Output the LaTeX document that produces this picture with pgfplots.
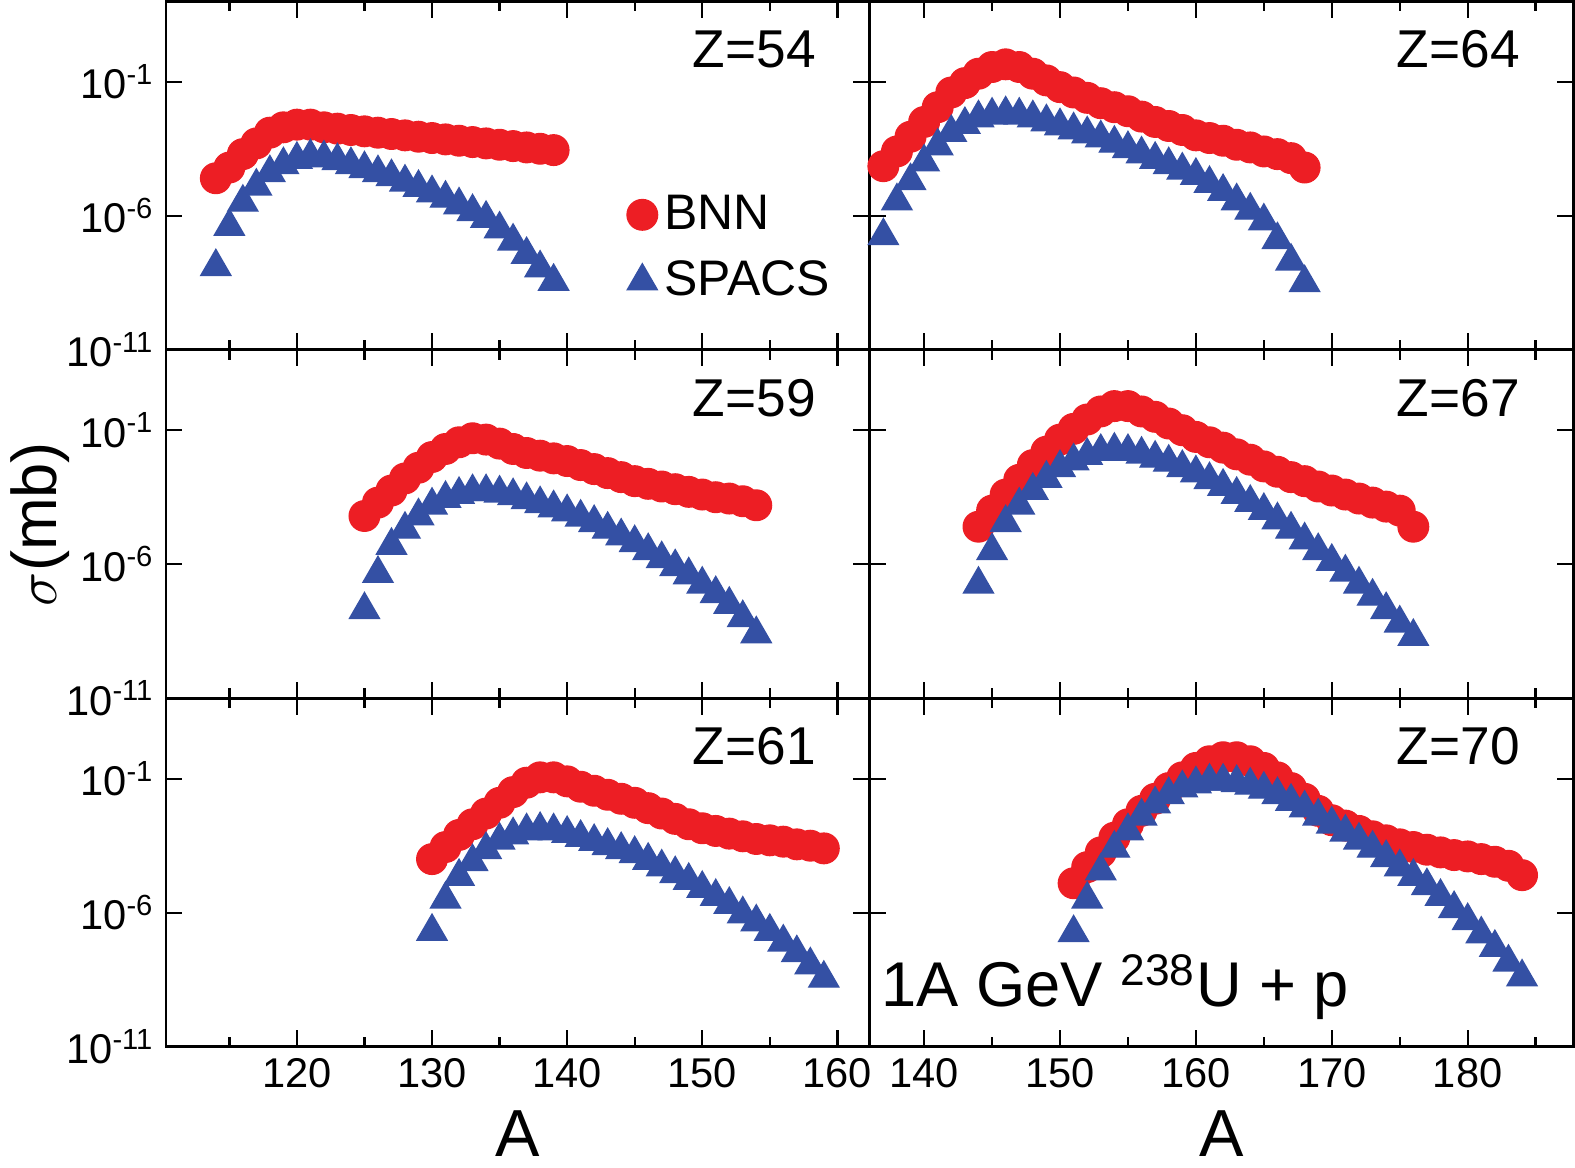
\documentclass[border=0pt]{standalone}
\usepackage{pgfplots}
\pgfplotsset{compat=1.18}
\usepackage{pgfplotstable}
\usepgfplotslibrary{groupplots}
\usepackage{fontspec}
\setmainfont{Liberation Sans}
\definecolor{bred}{RGB}{237,30,36}
\definecolor{sblue}{RGB}{52,80,164}
\pgfplotstableread{
A b s
114 -4.6 -7.9
115 -4.2 -6.4
116 -3.7 -5.5
117 -3.3 -4.9
118 -2.9 -4.4
119 -2.7 -4.1
120 -2.6 -3.9
121 -2.6 -3.8
122 -2.7 -3.85
123 -2.75 -3.95
124 -2.8 -4.1
125 -2.85 -4.25
126 -2.9 -4.4
127 -2.95 -4.55
128 -3.0 -4.75
129 -3.05 -4.95
130 -3.1 -5.15
131 -3.15 -5.35
132 -3.2 -5.6
133 -3.25 -5.85
134 -3.3 -6.1
135 -3.35 -6.5
136 -3.4 -6.95
137 -3.45 -7.45
138 -3.5 -7.95
139 -3.55 -8.45
}\tZa
\pgfplotstableread{
A b s
137 -4.15 -6.75
138 -3.6 -5.45
139 -3.05 -4.7
140 -2.5 -4.0
141 -1.95 -3.4
142 -1.4 -2.9
143 -1.05 -2.6
144 -0.7 -2.35
145 -0.45 -2.25
146 -0.35 -2.2
147 -0.45 -2.25
148 -0.7 -2.35
149 -0.95 -2.5
150 -1.2 -2.65
151 -1.4 -2.8
152 -1.6 -2.95
153 -1.8 -3.1
154 -1.95 -3.3
155 -2.1 -3.5
156 -2.3 -3.7
157 -2.5 -3.9
158 -2.65 -4.1
159 -2.8 -4.3
160 -3.0 -4.5
161 -3.1 -4.8
162 -3.2 -5.1
163 -3.35 -5.45
164 -3.45 -5.8
165 -3.6 -6.2
166 -3.7 -6.9
167 -3.85 -7.7
168 -4.2 -8.5
}\tZb
\pgfplotstableread{
A b s
125 -4.2 -7.7
126 -3.7 -6.35
127 -3.25 -5.3
128 -2.8 -4.7
129 -2.4 -4.2
130 -2.0 -3.8
131 -1.7 -3.55
132 -1.45 -3.4
133 -1.3 -3.3
134 -1.35 -3.3
135 -1.5 -3.35
136 -1.7 -3.45
137 -1.85 -3.6
138 -1.95 -3.75
139 -2.05 -3.9
140 -2.15 -4.05
141 -2.3 -4.25
142 -2.45 -4.45
143 -2.6 -4.7
144 -2.75 -4.95
145 -2.9 -5.2
146 -3.0 -5.5
147 -3.1 -5.8
148 -3.2 -6.1
149 -3.3 -6.4
150 -3.4 -6.75
151 -3.5 -7.1
152 -3.55 -7.5
153 -3.65 -8.0
154 -3.8 -8.6
}\tZc
\pgfplotstableread{
A b s
144 -4.6 -6.75
145 -4.0 -5.5
146 -3.4 -4.45
147 -2.85 -3.8
148 -2.3 -3.25
149 -1.8 -2.8
150 -1.35 -2.4
151 -0.95 -2.15
152 -0.6 -1.95
153 -0.3 -1.8
154 -0.1 -1.75
155 -0.1 -1.8
156 -0.3 -1.9
157 -0.5 -2.05
158 -0.75 -2.2
159 -1.0 -2.4
160 -1.25 -2.6
161 -1.45 -2.85
162 -1.65 -3.1
163 -1.9 -3.4
164 -2.1 -3.7
165 -2.35 -4.0
166 -2.55 -4.35
167 -2.75 -4.7
168 -2.9 -5.1
169 -3.1 -5.5
170 -3.25 -5.9
171 -3.4 -6.3
172 -3.55 -6.75
173 -3.7 -7.2
174 -3.85 -7.7
175 -4.0 -8.2
176 -4.6 -8.7
}\tZd
\pgfplotstableread{
A b s
130 -4.0 -6.7
131 -3.55 -5.5
132 -3.1 -4.65
133 -2.7 -4.1
134 -2.3 -3.65
135 -1.9 -3.3
136 -1.5 -3.1
137 -1.15 -2.95
138 -0.95 -2.9
139 -0.95 -2.95
140 -1.1 -3.05
141 -1.3 -3.2
142 -1.45 -3.35
143 -1.6 -3.5
144 -1.75 -3.65
145 -1.9 -3.8
146 -2.1 -4.05
147 -2.3 -4.3
148 -2.5 -4.55
149 -2.7 -4.8
150 -2.85 -5.1
151 -2.95 -5.4
152 -3.05 -5.7
153 -3.15 -6.05
154 -3.25 -6.35
155 -3.3 -6.7
156 -3.35 -7.1
157 -3.45 -7.5
158 -3.5 -7.95
159 -3.6 -8.45
}\tZe
\pgfplotstableread{
A b s
151 -4.9 -6.75
152 -4.3 -5.5
153 -3.75 -4.45
154 -3.2 -3.6
155 -2.7 -2.95
156 -2.2 -2.4
157 -1.75 -1.95
158 -1.35 -1.6
159 -0.95 -1.35
160 -0.6 -1.2
161 -0.35 -1.1
162 -0.2 -1.1
163 -0.2 -1.15
164 -0.35 -1.25
165 -0.6 -1.4
166 -0.95 -1.6
167 -1.35 -1.85
168 -1.75 -2.1
169 -2.2 -2.4
170 -2.55 -2.7
171 -2.75 -3.0
172 -2.95 -3.3
173 -3.15 -3.6
174 -3.3 -3.95
175 -3.45 -4.3
176 -3.55 -4.65
177 -3.65 -5.0
178 -3.75 -5.4
179 -3.85 -5.85
180 -3.9 -6.3
181 -4.0 -6.8
182 -4.1 -7.3
183 -4.25 -7.85
184 -4.6 -8.4
}\tZf
\begin{document}
\begin{tikzpicture}
\begin{groupplot}[
  group style={group size=2 by 3, horizontal sep=0pt, vertical sep=0pt,
    x descriptions at=edge bottom, y descriptions at=edge left},
  scale only axis, width=211.5pt, height=104.7pt,
  ymin=-11, ymax=2, ytick={-11,-6,-1},
  yticklabels={10\textsuperscript{-11},10\textsuperscript{-6},10\textsuperscript{-1}},
  xtick distance=10, minor x tick num=1,
  tick align=inside, major tick length=5pt, minor tick length=3pt,
  ticklabel style={font=\fontsize{12.5}{13}\selectfont},
  /pgf/number format/assume math mode=true,
  axis line style={line width=0.8pt}, every tick/.style={black,line width=0.7pt},
  clip=false,
]
\nextgroupplot[xmin=110.3,xmax=162.4,
  legend style={at={(rel axis cs:0.64,0.1)},anchor=south west,draw=none,fill=none,
    font=\fontsize{15}{18}\selectfont,row sep=4pt}, legend cell align=left]
\addplot[only marks,mark=*,mark size=4.6pt,color=bred] table[x=A,y=b]{\tZa};
\addplot[only marks,mark=triangle*,mark size=5.2pt,color=sblue] table[x=A,y=s]{\tZa};
\legend{BNN,SPACS}
\node[anchor=north east,font=\fontsize{16}{18}\selectfont] at (rel axis cs:0.94,0.95){Z=54};
\nextgroupplot[xmin=136,xmax=187.8]
\addplot[only marks,mark=*,mark size=4.6pt,color=bred] table[x=A,y=b]{\tZb};
\addplot[only marks,mark=triangle*,mark size=5.2pt,color=sblue] table[x=A,y=s]{\tZb};
\node[anchor=north east,font=\fontsize{16}{18}\selectfont] at (rel axis cs:0.94,0.95){Z=64};
\nextgroupplot[xmin=110.3,xmax=162.4, ylabel={$\sigma$(mb)},
  ylabel style={font=\fontsize{19}{20}\selectfont, yshift=-8pt}]
\addplot[only marks,mark=*,mark size=4.6pt,color=bred] table[x=A,y=b]{\tZc};
\addplot[only marks,mark=triangle*,mark size=5.2pt,color=sblue] table[x=A,y=s]{\tZc};
\node[anchor=north east,font=\fontsize{16}{18}\selectfont] at (rel axis cs:0.94,0.95){Z=59};
\nextgroupplot[xmin=136,xmax=187.8]
\addplot[only marks,mark=*,mark size=4.6pt,color=bred] table[x=A,y=b]{\tZd};
\addplot[only marks,mark=triangle*,mark size=5.2pt,color=sblue] table[x=A,y=s]{\tZd};
\node[anchor=north east,font=\fontsize{16}{18}\selectfont] at (rel axis cs:0.94,0.95){Z=67};
\nextgroupplot[xmin=110.3,xmax=162.4, xlabel={A},
  xlabel style={font=\fontsize{20}{20}\selectfont, yshift=0pt}]
\addplot[only marks,mark=*,mark size=4.6pt,color=bred] table[x=A,y=b]{\tZe};
\addplot[only marks,mark=triangle*,mark size=5.2pt,color=sblue] table[x=A,y=s]{\tZe};
\node[anchor=north east,font=\fontsize{16}{18}\selectfont] at (rel axis cs:0.94,0.95){Z=61};
\nextgroupplot[xmin=136,xmax=187.8, xlabel={A},
  xlabel style={font=\fontsize{20}{20}\selectfont, yshift=0pt}]
\addplot[only marks,mark=*,mark size=4.6pt,color=bred] table[x=A,y=b]{\tZf};
\addplot[only marks,mark=triangle*,mark size=5.2pt,color=sblue] table[x=A,y=s]{\tZf};
\node[anchor=north east,font=\fontsize{16}{18}\selectfont] at (rel axis cs:0.94,0.95){Z=70};
\node[anchor=west,font=\fontsize{19}{20}\selectfont] at (rel axis cs:0.0,0.17){1A GeV \textsuperscript{238}U + p};
\end{groupplot}
\end{tikzpicture}
\end{document}
